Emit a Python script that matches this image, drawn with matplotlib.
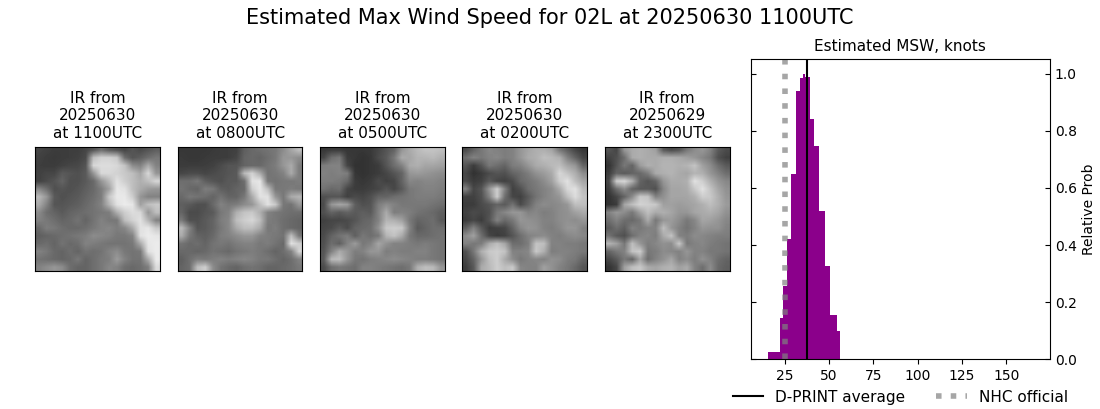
import matplotlib
matplotlib.use("Agg")
import matplotlib.pyplot as plt
import numpy as np

# estimated wind speed histogram
bin_edges = [15.4, 22.7, 23.9, 26.3, 28.4, 31.2, 33.6, 35.3, 36.8, 39.1, 41.4, 44.2, 47.6, 50.4, 54.3, 56.0]
rel_prob = [0.026, 0.145, 0.256, 0.42, 0.65, 0.94, 0.984, 1.0, 0.987, 0.84, 0.746, 0.519, 0.326, 0.155, 0.10]
dprint_avg = 37.4
nhc_official = 25

panel_labels = ["IR from\n20250630\nat 1100UTC", "IR from\n20250630\nat 0800UTC", "IR from\n20250630\nat 0500UTC",
                "IR from\n20250630\nat 0200UTC", "IR from\n20250629\nat 2300UTC"]

# coarse brightness
ir_1100 = [
    [70, 65, 60, 60, 62, 62, 70, 85, 110, 90, 80, 70, 85, 75, 85, 95],
    [65, 60, 58, 60, 62, 65, 75, 190, 210, 210, 200, 110, 85, 95, 110, 120],
    [62, 60, 60, 65, 70, 72, 85, 215, 220, 220, 215, 195, 140, 130, 170, 130],
    [65, 70, 70, 90, 85, 80, 90, 150, 215, 215, 210, 200, 190, 165, 215, 150],
    [65, 75, 85, 100, 80, 80, 90, 105, 150, 185, 225, 205, 190, 175, 190, 215],
    [135, 110, 80, 85, 80, 85, 95, 105, 125, 160, 230, 225, 190, 170, 155, 150],
    [185, 150, 90, 80, 85, 90, 100, 110, 125, 200, 232, 232, 205, 150, 130, 130],
    [170, 130, 85, 85, 90, 95, 105, 115, 130, 180, 225, 235, 230, 160, 190, 200],
    [140, 110, 100, 90, 100, 105, 110, 115, 120, 125, 175, 205, 220, 215, 150, 190],
    [130, 120, 110, 100, 105, 115, 100, 115, 130, 120, 120, 190, 210, 225, 180, 130],
    [105, 125, 120, 110, 105, 105, 110, 120, 130, 135, 125, 135, 170, 225, 230, 200],
    [95, 100, 105, 110, 115, 120, 125, 140, 135, 130, 120, 120, 130, 225, 235, 230],
    [105, 110, 100, 115, 105, 110, 130, 125, 120, 115, 115, 115, 120, 170, 230, 235],
    [130, 120, 105, 100, 110, 100, 115, 110, 115, 130, 140, 120, 115, 120, 225, 235],
    [115, 110, 105, 100, 105, 120, 100, 110, 120, 125, 155, 130, 115, 115, 170, 235],
    [130, 140, 150, 140, 110, 100, 100, 110, 120, 135, 130, 110, 105, 110, 125, 220],
]
ir_0800 = [
    [55, 55, 55, 55, 58, 60, 62, 65, 95, 105, 110, 115, 120, 140, 165, 190],
    [58, 55, 55, 58, 60, 60, 62, 70, 100, 105, 100, 110, 120, 150, 150, 140],
    [60, 60, 60, 62, 65, 75, 85, 85, 100, 105, 105, 115, 125, 150, 170, 125],
    [70, 75, 75, 70, 75, 80, 85, 90, 185, 210, 170, 115, 120, 130, 170, 125],
    [110, 110, 120, 95, 85, 80, 90, 90, 110, 225, 230, 120, 115, 120, 120, 125],
    [115, 105, 100, 125, 120, 95, 90, 100, 105, 205, 230, 190, 120, 120, 125, 120],
    [105, 120, 115, 110, 100, 115, 100, 100, 120, 170, 225, 225, 150, 120, 170, 180],
    [95, 90, 80, 80, 105, 130, 120, 125, 140, 150, 190, 225, 200, 120, 115, 150],
    [100, 75, 75, 85, 90, 120, 130, 175, 195, 200, 175, 130, 120, 115, 110, 110],
    [120, 80, 80, 90, 100, 125, 135, 190, 205, 215, 190, 125, 120, 110, 105, 100],
    [185, 130, 85, 90, 100, 120, 135, 170, 190, 190, 170, 120, 125, 110, 105, 100],
    [170, 120, 100, 95, 105, 125, 130, 140, 150, 150, 130, 125, 120, 115, 190, 120],
    [115, 105, 110, 100, 115, 120, 115, 125, 130, 130, 120, 125, 115, 105, 225, 205],
    [105, 105, 100, 105, 115, 110, 105, 115, 120, 125, 120, 110, 100, 110, 130, 210],
    [95, 110, 125, 120, 125, 130, 125, 130, 135, 130, 120, 120, 110, 100, 110, 130],
    [100, 110, 190, 205, 140, 115, 105, 100, 110, 115, 110, 100, 100, 105, 110, 120],
]
ir_0500 = [
    [55, 60, 60, 55, 55, 55, 58, 70, 85, 100, 150, 170, 185, 195, 195, 190],
    [70, 110, 120, 60, 55, 50, 55, 75, 90, 120, 170, 165, 180, 180, 185, 175],
    [125, 130, 130, 70, 50, 50, 55, 60, 85, 110, 130, 170, 175, 165, 165, 160],
    [130, 125, 130, 125, 55, 50, 55, 60, 70, 85, 100, 150, 155, 150, 145, 140],
    [125, 125, 120, 105, 60, 55, 60, 75, 65, 70, 100, 135, 130, 135, 135, 130],
    [115, 105, 110, 70, 60, 60, 65, 70, 85, 70, 90, 120, 125, 130, 130, 125],
    [80, 85, 85, 65, 75, 70, 80, 100, 100, 110, 115, 120, 125, 125, 125, 120],
    [75, 150, 165, 155, 95, 80, 85, 125, 140, 130, 120, 120, 120, 120, 115, 110],
    [80, 100, 90, 100, 90, 95, 90, 130, 170, 125, 130, 125, 115, 110, 105, 95],
    [65, 70, 70, 75, 85, 100, 105, 130, 180, 175, 160, 120, 100, 105, 110, 90],
    [70, 75, 90, 75, 100, 105, 110, 145, 200, 205, 200, 130, 90, 100, 110, 110],
    [75, 100, 115, 125, 95, 120, 110, 120, 180, 195, 170, 120, 105, 105, 110, 115],
    [80, 110, 95, 130, 155, 120, 130, 165, 145, 130, 130, 125, 120, 125, 120, 115],
    [85, 130, 170, 150, 125, 130, 150, 150, 125, 130, 125, 125, 130, 130, 120, 115],
    [90, 185, 190, 150, 120, 115, 125, 130, 135, 140, 135, 130, 125, 125, 120, 115],
    [75, 110, 120, 115, 110, 130, 130, 125, 120, 115, 110, 120, 175, 190, 185, 150],
]
ir_0200 = [
    [75, 100, 120, 135, 130, 125, 130, 150, 165, 175, 175, 165, 120, 95, 70, 55],
    [110, 130, 120, 130, 135, 125, 130, 150, 170, 175, 190, 185, 175, 130, 100, 70],
    [85, 60, 85, 120, 110, 100, 125, 130, 150, 170, 175, 185, 190, 165, 150, 100],
    [70, 50, 60, 75, 85, 80, 100, 110, 125, 145, 155, 170, 215, 195, 175, 140],
    [75, 60, 65, 90, 70, 65, 75, 105, 115, 125, 140, 160, 205, 225, 190, 165],
    [130, 70, 85, 150, 205, 130, 65, 80, 110, 120, 130, 140, 170, 215, 225, 185],
    [65, 65, 80, 130, 205, 110, 70, 65, 90, 115, 130, 140, 150, 190, 220, 195],
    [60, 60, 75, 85, 100, 90, 115, 75, 100, 130, 140, 135, 140, 150, 190, 190],
    [65, 75, 70, 80, 120, 135, 150, 150, 130, 135, 125, 130, 140, 145, 160, 170],
    [60, 70, 60, 85, 130, 105, 120, 150, 145, 140, 130, 130, 140, 145, 140, 150],
    [95, 130, 90, 60, 65, 70, 100, 135, 150, 145, 130, 125, 135, 150, 150, 130],
    [140, 160, 110, 70, 60, 65, 85, 110, 130, 135, 140, 130, 125, 135, 140, 135],
    [130, 120, 125, 170, 190, 165, 110, 110, 125, 195, 190, 130, 130, 125, 125, 120],
    [80, 120, 175, 200, 205, 195, 130, 130, 135, 200, 175, 125, 130, 130, 125, 120],
    [70, 100, 150, 190, 205, 170, 140, 120, 130, 135, 130, 145, 140, 125, 120, 100],
    [60, 90, 170, 185, 205, 190, 200, 135, 130, 130, 160, 145, 130, 120, 105, 85],
]
ir_2300 = [
    [85, 70, 150, 170, 175, 170, 160, 90, 75, 85, 120, 140, 150, 130, 90, 75],
    [65, 80, 110, 170, 175, 170, 170, 175, 175, 170, 160, 150, 135, 120, 80, 65],
    [50, 85, 120, 100, 155, 175, 170, 180, 180, 175, 180, 195, 160, 140, 110, 90],
    [60, 100, 90, 100, 105, 125, 170, 175, 180, 170, 165, 180, 175, 150, 130, 110],
    [70, 205, 215, 175, 100, 85, 100, 150, 170, 170, 175, 225, 205, 175, 150, 135],
    [60, 110, 140, 100, 90, 90, 80, 135, 165, 165, 170, 200, 225, 195, 165, 145],
    [50, 70, 100, 140, 200, 195, 130, 145, 165, 165, 165, 175, 205, 200, 175, 150],
    [50, 60, 165, 190, 210, 205, 200, 160, 160, 155, 160, 165, 175, 190, 175, 155],
    [130, 150, 140, 120, 160, 190, 170, 175, 165, 150, 150, 165, 170, 175, 165, 145],
    [110, 130, 110, 105, 120, 170, 120, 150, 155, 140, 120, 135, 165, 160, 150, 135],
    [90, 110, 95, 130, 120, 130, 130, 190, 150, 130, 115, 130, 150, 145, 145, 130],
    [115, 90, 80, 110, 130, 135, 125, 170, 195, 130, 125, 140, 135, 130, 125, 125],
    [180, 160, 120, 190, 150, 125, 135, 145, 140, 200, 120, 130, 135, 125, 120, 115],
    [100, 120, 130, 195, 205, 120, 125, 140, 135, 130, 150, 130, 130, 120, 120, 115],
    [70, 90, 120, 100, 165, 110, 130, 145, 165, 130, 140, 125, 145, 130, 110, 100],
    [50, 70, 160, 190, 200, 170, 165, 175, 180, 160, 170, 130, 110, 140, 105, 95],
]
ir_images = [ir_1100, ir_0800, ir_0500, ir_0200, ir_2300]

W, H = 1100, 409
fig = plt.figure(figsize=(W / 100, H / 100), dpi=100)
fig.suptitle("Estimated Max Wind Speed for 02L at 20250630 1100UTC", fontsize=15, x=0.5, y=1 - 18.5 / H, va="center")

lefts = [35.3, 178, 320.3, 462.3, 605]
for left, img, label in zip(lefts, ir_images, panel_labels):
    ax = fig.add_axes([left / W, 1 - 271.3 / H, 124.5 / W, 124 / H])
    ax.imshow(np.array(img), cmap="gray", vmin=0, vmax=255, interpolation="bilinear", aspect="auto")
    ax.set_xticks([])
    ax.set_yticks([])
    ax.set_title(label, fontsize=11, pad=7)

ax = fig.add_axes([750.5 / W, 1 - 359.3 / H, 299.5 / W, 300 / H])
ax.stairs(rel_prob, bin_edges, fill=True, color="darkmagenta")
ax.axvline(dprint_avg, color="k", lw=1.5, label="D-PRINT average")
ax.axvline(nhc_official, color="gray", lw=4, ls=":", alpha=0.7, label="NHC official")
ax.set_xlim(5.8, 174.7)
ax.set_ylim(0, 1.05)
ax.set_xticks([25, 50, 75, 100, 125, 150])
ax.yaxis.set_label_position("right")
ax.tick_params(axis="y", direction="in", left=True, right=True, labelleft=False, labelright=True)
ax.set_ylabel("Relative Prob")
ax.set_title("Estimated MSW, knots", fontsize=11, pad=6)
ax.legend(ncol=2, frameon=False, fontsize=11, loc="upper center", bbox_to_anchor=(0.5, -0.055))

fig.savefig("out.png", dpi=100)
